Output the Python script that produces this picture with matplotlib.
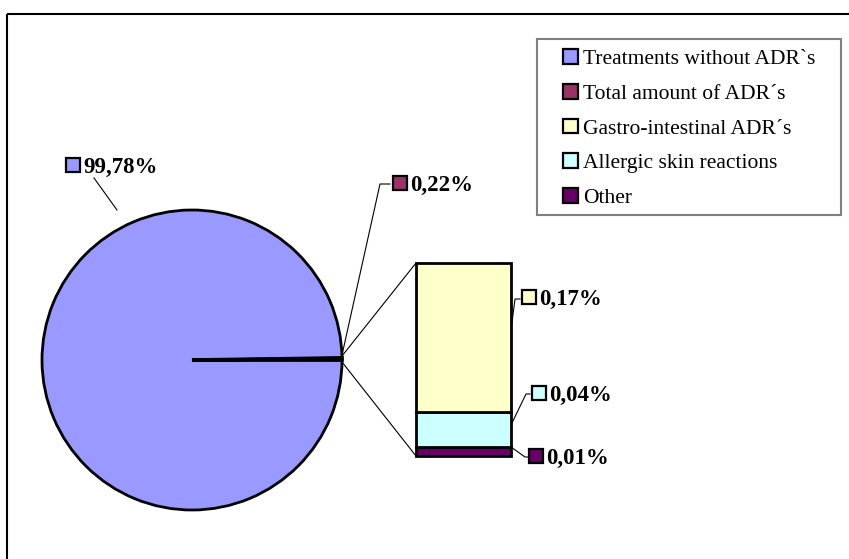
import matplotlib
matplotlib.use("Agg")
import matplotlib.pyplot as plt
from matplotlib.patches import Patch, Rectangle
import numpy as np

# ---- data ----
pie_labels = ["Treatments without ADR`s", "Total amount of ADR´s"]
pie_values = [99.78, 0.22]
bar_labels = ["Gastro-intestinal ADR´s", "Allergic skin reactions", "Other"]
bar_values = [0.17, 0.04, 0.01]
legend_labels = pie_labels + bar_labels

pie_colors = ["#9999FF", "#993366"]
bar_colors = ["#FFFFCC", "#CCFFFF", "#660066"]

W, H = 849, 559
fig = plt.figure(figsize=(W / 100, H / 100), dpi=100)
ax = fig.add_axes([0, 0, 1, 1])

def Y(y):
    return H - y

def fmt(v):
    return f"{v:.2f}%".replace(".", ",")

# pie
wedges, _ = ax.pie(pie_values, colors=pie_colors, startangle=pie_values[1] / 100 * 360,
                   counterclock=True, center=(192, Y(360)), radius=150,
                   wedgeprops=dict(edgecolor="black", linewidth=2.0))
wedges[1].set_linewidth(2.6)
ax.set_xlim(0, W)
ax.set_ylim(0, H)
ax.set_aspect("auto")
ax.axis("off")

# bar (stacked, bottom = Other)
bx0, bx1, by_top, by_bot = 416, 511, 263, 456
bax = fig.add_axes([bx0 / W, Y(by_bot) / H, (bx1 - bx0) / W, (by_bot - by_top) / H])
bottom = 0
for v, c in zip(bar_values[::-1], bar_colors[::-1]):
    bax.bar(0, v, bottom=bottom, width=1.0, color=c, edgecolor="black",
            linewidth=2.0, clip_on=False)
    bottom += v
bax.set_xlim(-0.5, 0.5)
bax.set_ylim(0, sum(bar_values))
bax.axis("off")

# connector lines pie -> bar
ax.plot([342, bx0], [Y(356), Y(by_top)], color="black", lw=0.8)
ax.plot([342, bx0], [Y(362), Y(by_bot)], color="black", lw=0.8)

# frame lines (chart area border, left and top)
ax.plot([7, 7], [0, Y(14)], color="black", lw=1.5, solid_capstyle="butt")
ax.plot([7, W], [Y(14), Y(14)], color="black", lw=1.5, solid_capstyle="butt")

lab_font = dict(family="Liberation Serif", size=16.5, weight="bold")

def data_label(val, color, mx, my, leader):
    ax.add_patch(Rectangle((mx - 7, Y(my) - 7), 14, 14, facecolor=color,
                           edgecolor="black", lw=1.6, zorder=5))
    ax.text(mx + 10, Y(my + 2), fmt(val), ha="left", va="center", **lab_font)
    xs, ys = zip(*leader)
    ax.plot(xs, [Y(y) for y in ys], color="black", lw=0.8)

data_label(pie_values[0], pie_colors[0], 73, 165, [(94, 178), (117, 210)])
data_label(pie_values[1], pie_colors[1], 400, 183, [(342, 355), (380, 184), (390, 184)])
data_label(bar_values[0], bar_colors[0], 529, 297, [(511, 330), (515, 299), (520, 299)])
data_label(bar_values[1], bar_colors[1], 539, 393, [(511, 425), (526, 394), (530, 394)])
data_label(bar_values[2], bar_colors[2], 536, 456, [(511, 447), (525, 457), (528, 457)])

# legend
ax.add_patch(Rectangle((537, Y(215)), 841 - 537, 215 - 39, facecolor="white",
                       edgecolor="#808080", lw=1.5, zorder=3))
handles = [Patch(facecolor=c, edgecolor="black", linewidth=1.6)
           for c in pie_colors + bar_colors]
leg = ax.legend(handles, legend_labels, loc="upper left",
                bbox_to_anchor=(548 / W, Y(34) / H), bbox_transform=fig.transFigure,
                prop=dict(family="Liberation Serif", size=15.5), frameon=False,
                handlelength=0.68, handleheight=0.68, handletextpad=0.25,
                labelspacing=0.69, borderpad=0.2)
leg.set_zorder(6)

fig.savefig("out.png", dpi=100)
